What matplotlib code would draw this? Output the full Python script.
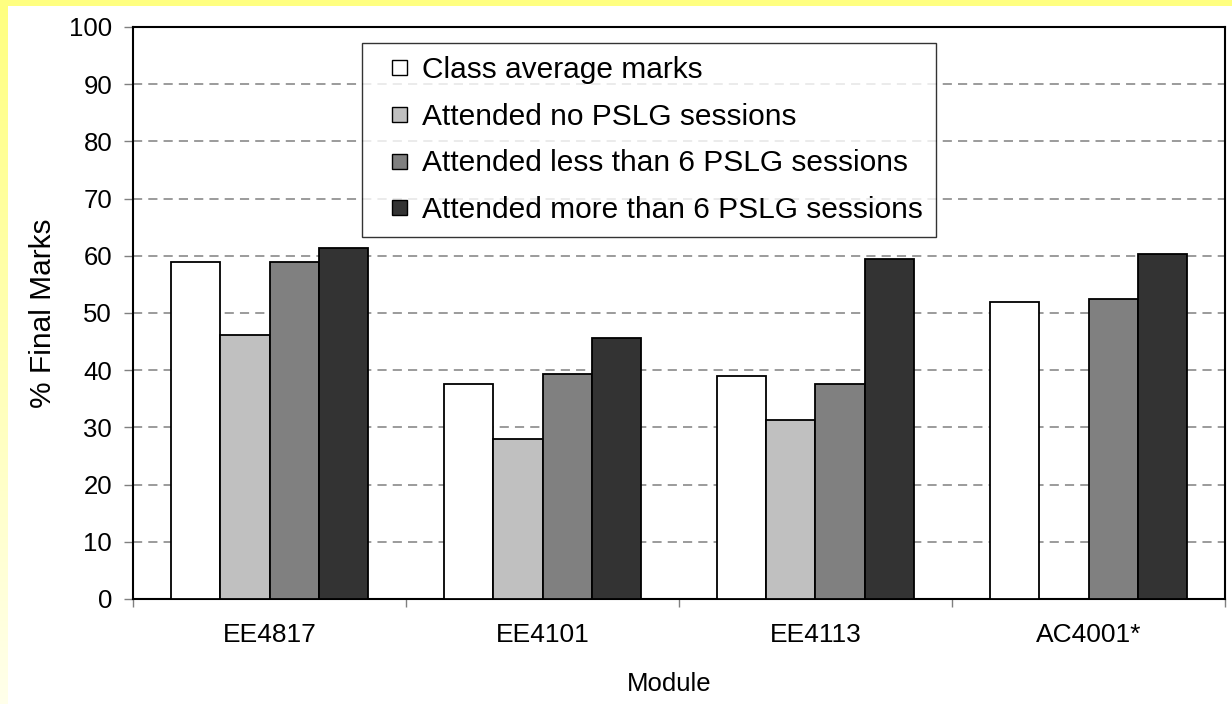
import numpy as np
import matplotlib
matplotlib.use("Agg")
import matplotlib.pyplot as plt
from matplotlib.patches import Rectangle
from matplotlib.legend_handler import HandlerPatch

plt.rcParams['font.family'] = ['Liberation Sans', 'DejaVu Sans']

modules = ["EE4817", "EE4101", "EE4113", "AC4001*"]
series_names = ["Class average marks",
                "Attended no PSLG sessions",
                "Attended less than 6 PSLG sessions",
                "Attended more than 6 PSLG sessions"]
class_avg = [58.9, 37.6, 39.0, 52.0]
no_pslg = [46.1, 28.0, 31.3, 0.0]
less_6 = [58.9, 39.4, 37.6, 52.4]
more_6 = [61.4, 45.6, 59.4, 60.4]
colors = ["#FFFFFF", "#C0C0C0", "#808080", "#333333"]
y_ticks = [0, 10, 20, 30, 40, 50, 60, 70, 80, 90, 100]

W, H = 1232, 704
fig = plt.figure(figsize=(W / 100, H / 100), dpi=100)
fig.patch.set_facecolor("white")

# yellow frame strips (top and left, left fading)
top = Rectangle((0, 1 - 6 / H), 1, 6 / H, transform=fig.transFigure,
                facecolor="#FFFF80", edgecolor="none", zorder=0)
fig.patches.append(top)
lax = fig.add_axes([0, 0, 8 / W, 1 - 6 / H])
grad = np.linspace(0, 1, 256).reshape(-1, 1)
c_top = np.array([1.0, 1.0, 0.5])
c_bot = np.array([1.0, 1.0, 0.92])
img = c_top[None, None, :] * (1 - grad[:, :, None]) + c_bot[None, None, :] * grad[:, :, None]
lax.imshow(img, aspect="auto", extent=[0, 1, 0, 1])
lax.set_axis_off()

ax = fig.add_axes([133 / W, 1 - 599 / H, (1225 - 133) / W, (599 - 27) / H])
data = [class_avg, no_pslg, less_6, more_6]
x = np.arange(len(modules))
bw = 0.18
for i, (vals, col, name) in enumerate(zip(data, colors, series_names)):
    ax.bar(x + (i - 1.5) * bw, vals, width=bw, color=col, edgecolor="black",
           linewidth=1.3, zorder=3)

ax.set_xlim(-0.5, len(modules) - 0.5)
ax.set_ylim(0, 100)
ax.set_yticks(y_ticks)
ax.set_yticklabels([str(v) for v in y_ticks], fontsize=18.5)
ax.set_xticks(x)
ax.set_xticklabels(modules, fontsize=19)
ax.tick_params(axis='x', length=0, pad=17)
ax.tick_params(axis='y', length=6.5, width=1, color="#808080", pad=8.5)
ax.set_xticks(np.arange(len(modules) + 1) - 0.5, minor=True)
ax.tick_params(axis='x', which='minor', length=6, width=1, color="#808080")

for yv in y_ticks[1:-1]:
    ax.axhline(yv, color="#808080", linestyle=(0, (6, 4)), linewidth=1.1, zorder=1)

for s in ax.spines.values():
    s.set_color("black")
    s.set_linewidth(1.5)

ax.set_ylabel("% Final Marks", fontsize=21.5, labelpad=9)
ax.set_xlabel("Module", fontsize=18.5)
ax.xaxis.set_label_coords((669 - 133) / (1225 - 133), -(684 - 599) / (599 - 27))
ax.xaxis.label.set_va("center")


def small_square(legend, orig_handle, xdescent, ydescent, width, height, fontsize):
    s = 15 * 72 / 100
    return Rectangle((width - s - xdescent, (height - s) / 2 - ydescent), s, s)


proxies = [Rectangle((0, 0), 1, 1, facecolor=c, edgecolor="black", linewidth=1.0)
           for c in colors]
leg = ax.legend(proxies, series_names, loc="upper left",
                bbox_to_anchor=((362 - 133) / (1225 - 133), (599 - 43) / (599 - 27)),
                fontsize=21.5, frameon=True, fancybox=False, edgecolor="black",
                handlelength=1.05, handleheight=0.7, handletextpad=0.5,
                labelspacing=0.62, borderpad=0.45, borderaxespad=0,
                handler_map={Rectangle: HandlerPatch(patch_func=small_square)})
leg.get_frame().set_linewidth(1.0)
leg.set_zorder(5)

fig.savefig("out.png", dpi=100, facecolor=fig.get_facecolor())
